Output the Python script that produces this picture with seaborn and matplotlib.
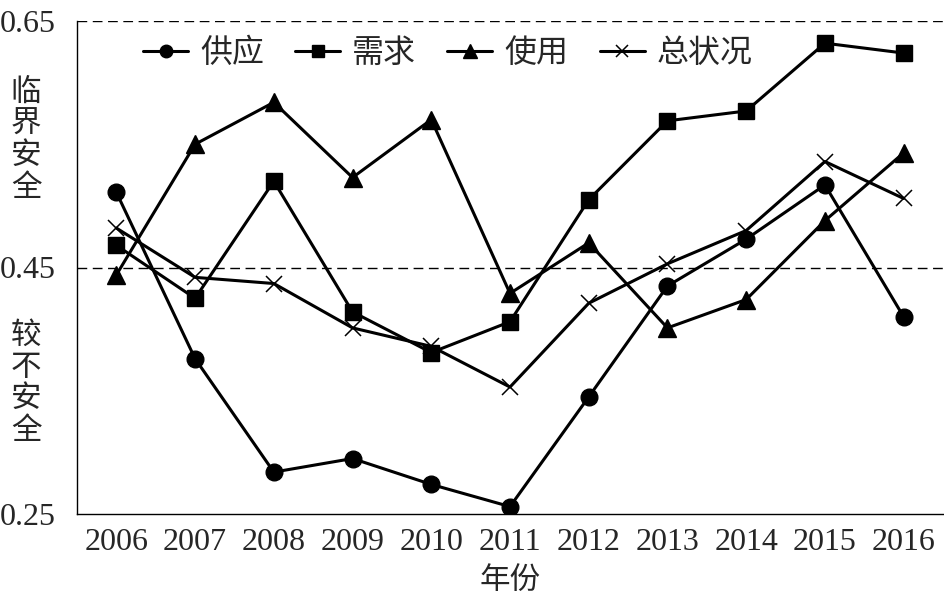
import matplotlib
matplotlib.use("Agg")
import matplotlib.pyplot as plt
import seaborn as sns
import pandas as pd
import numpy as np
from matplotlib.ticker import FixedLocator

years = ["2006", "2007", "2008", "2009", "2010", "2011", "2012", "2013", "2014", "2015", "2016"]
supply = [0.511, 0.376, 0.284, 0.295, 0.274, 0.256, 0.345, 0.435, 0.473, 0.517, 0.410]
demand = [0.468, 0.425, 0.520, 0.414, 0.381, 0.406, 0.505, 0.569, 0.577, 0.632, 0.624]
usage = [0.444, 0.550, 0.584, 0.523, 0.570, 0.429, 0.470, 0.401, 0.424, 0.488, 0.543]
overall = [0.482, 0.442, 0.437, 0.401, 0.386, 0.353, 0.421, 0.453, 0.480, 0.536, 0.506]
series_names = ["供应", "需求", "使用", "总状况"]
series_values = [supply, demand, usage, overall]
ytick_values = [0.25, 0.45, 0.65]
threshold_lines = [0.45, 0.65]

sns.set_style("white")
plt.rcParams["font.family"] = ["Liberation Serif", "Noto Sans CJK SC", "DejaVu Sans"]
cjk = ["Noto Sans CJK SC", "DejaVu Sans"]

fig = plt.figure(figsize=(9.44, 5.98), dpi=100)
ax = fig.add_axes([77 / 944, 1 - 514 / 598, 866 / 944, 493 / 598])

rows = []
for name, vals in zip(series_names, series_values):
    for i, v in enumerate(vals):
        rows.append({"idx": i, "value": v, "series": name})
df = pd.DataFrame(rows)

styles = {
    "供应": dict(marker="o", ms=12, mew=1),
    "需求": dict(marker="s", ms=12, mew=1),
    "使用": dict(marker="^", ms=12.5, mew=1),
    "总状况": dict(marker="x", ms=12, mew=1.1),
}
for name in series_names:
    sub = df[df["series"] == name]
    st = styles[name]
    sns.lineplot(data=sub, x="idx", y="value", ax=ax, color="black", lw=2.2,
                 marker=st["marker"], markersize=st["ms"], markeredgewidth=st["mew"],
                 markeredgecolor="black", markerfacecolor="black", label=name,
                 legend=False, zorder=3)

for yv in threshold_lines:
    ax.axhline(yv, color="black", lw=1.0, dashes=(7, 4), zorder=1)

ax.set_xlim(-0.5, len(years) - 0.5)
ax.set_ylim(0.25, 0.65)
ax.set_xticks(range(len(years)))
ax.set_xticklabels(years, fontsize=23)
ax.xaxis.set_minor_locator(FixedLocator(np.arange(-0.5, len(years), 1.0)))
ax.tick_params(axis="x", which="major", length=0, pad=10)
ax.tick_params(axis="x", which="minor", direction="in", length=6, width=1, color="black")
ax.set_yticks(ytick_values)
ax.set_yticklabels(["0.25", "0.45", "0.65"], fontsize=23)
ax.tick_params(axis="y", length=0, pad=15)
ax.set_xlabel("年份", fontsize=22, family=cjk, labelpad=6)
ax.set_ylabel("")

for s in ["top", "right"]:
    ax.spines[s].set_visible(False)
for s in ["left", "bottom"]:
    ax.spines[s].set_color("black")
    ax.spines[s].set_linewidth(1.0)

fig.text(26 / 944, 1 - 140 / 598, "临\n界\n安\n全", fontsize=22, family=cjk,
         ha="center", va="center", linespacing=1.02)
fig.text(26 / 944, 1 - 383 / 598, "较\n不\n安\n全", fontsize=22, family=cjk,
         ha="center", va="center", linespacing=1.02)

handles, labels = ax.get_legend_handles_labels()
leg = ax.legend(handles, labels, ncol=4, frameon=False, loc="center left",
                bbox_to_anchor=((143 - 77) / 866, (514 - 53) / 493),
                borderaxespad=0, borderpad=0, handlelength=1.41,
                handletextpad=0.38, columnspacing=0.97, markerscale=0.75,
                prop={"family": cjk, "size": 23})

fig.savefig("out.png", dpi=100)
